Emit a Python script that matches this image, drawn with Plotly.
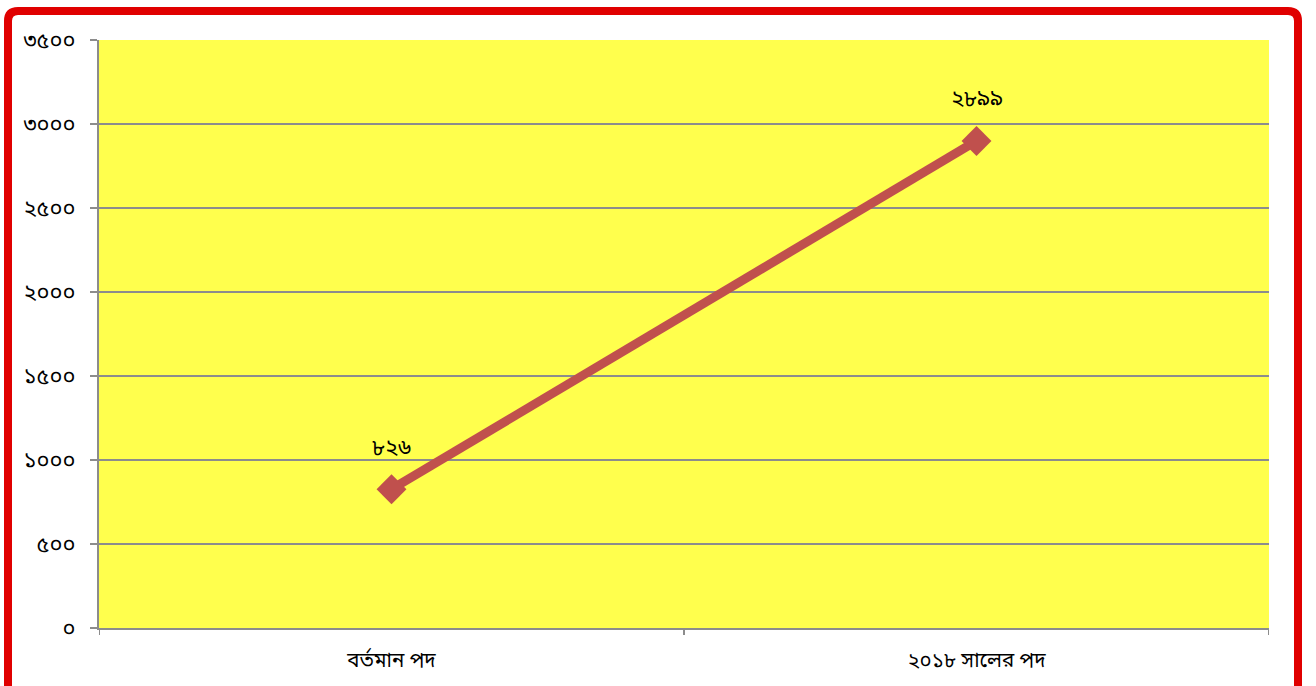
import plotly.graph_objects as go

categories = ["বর্তমান পদ", "২০১৮ সালের পদ"]
values = [826, 2899]
value_labels = ["৮২৬", "২৮৯৯"]
y_tickvals = [0, 500, 1000, 1500, 2000, 2500, 3000, 3500]
y_ticktext = ["০", "৫০০", "১০০০", "১৫০০", "২০০০", "২৫০০", "৩০০০", "৩৫০০"]

W, H = 1316, 686
L, R, T, B = 99, 1269, 40, 628

def px(x):
    return (x - L) / (R - L)

def py(y):
    return (B - y) / (B - T)

font_family = "Noto Sans Bengali, Noto Sans, DejaVu Sans, sans-serif"

fig = go.Figure()
fig.add_trace(go.Scatter(
    x=[0, 1], y=values,
    mode="lines+markers",
    line=dict(color="#C0504D", width=9),
    marker=dict(symbol="diamond", size=23, color="#C0504D"),
    hoverinfo="skip",
    cliponaxis=False,
))

for i, (v, lab) in enumerate(zip(values, value_labels)):
    fig.add_annotation(x=i, y=v, text=lab, showarrow=False, yshift=40,
                       font=dict(size=22, color="black", family=font_family))

# Frame
r = 10
x0, x1 = px(8), px(1298)
y0, y1 = py(11), py(720)
fig.add_shape(type="path", xref="paper", yref="paper",
              path=f"M {x0},{y1} L {x0},{py(11 + r)} Q {x0},{y0} {px(8 + r)},{y0} "
                   f"L {px(1298 - r)},{y0} Q {x1},{y0} {x1},{py(11 + r)} L {x1},{y1}",
              line=dict(color="#E00000", width=8), layer="above")

fig.update_layout(
    width=W, height=H,
    margin=dict(l=L, r=W - R, t=T, b=H - B),
    paper_bgcolor="white",
    plot_bgcolor="#FFFF4D",
    showlegend=False,
    font=dict(family=font_family, color="black"),
    xaxis=dict(
        range=[-0.5, 1.5],
        tickvals=[0, 1], ticktext=categories,
        tickfont=dict(size=20.5, color="black"),
        showgrid=False, zeroline=False,
        showline=True, linecolor="#8C8C8C", linewidth=2,
        ticks="", fixedrange=True,
        ticklabelstandoff=12,
    ),
    yaxis=dict(
        range=[0, 3500],
        tickvals=y_tickvals, ticktext=y_ticktext,
        tickfont=dict(size=22, color="black"),
        showgrid=True, gridcolor="#8C8C8C", gridwidth=1.5,
        zeroline=False,
        showline=True, linecolor="#8C8C8C", linewidth=2,
        ticks="outside", ticklen=7, tickcolor="#8C8C8C", tickwidth=2,
        ticklabelstandoff=10,
    ),
)

# category separators tick marks on x axis (between categories)
for xv in [-0.5, 0.5, 1.5]:
    fig.add_shape(type="line", xref="x", yref="paper", x0=xv, x1=xv, y0=0, y1=py(B + 7),
                  line=dict(color="#8C8C8C", width=2))

fig.write_html("out.html", config={"displayModeBar": False},
               post_script="document.body.style.margin='0';document.body.style.padding='0';")
